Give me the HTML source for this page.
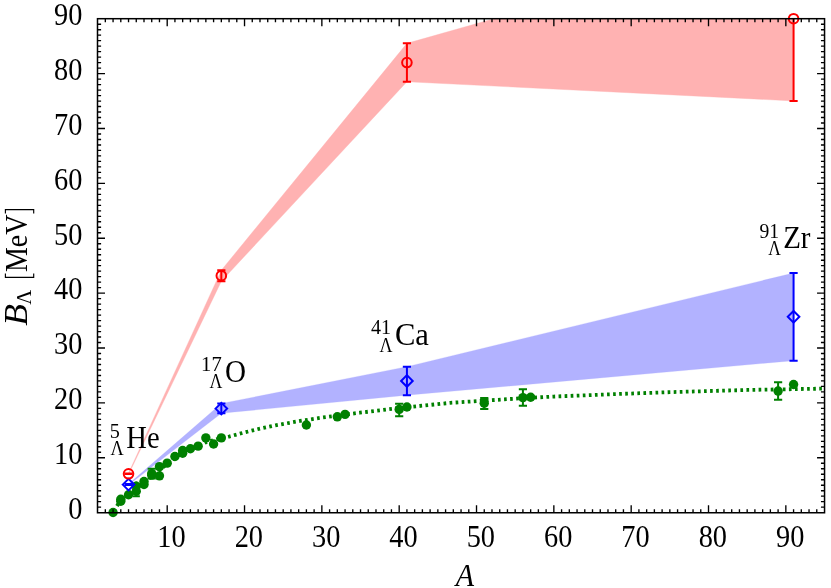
<!DOCTYPE html>
<html><head><meta charset="utf-8"><title>B_Lambda vs A</title>
<style>html,body{margin:0;padding:0;background:#fff;}svg{display:block;will-change:transform;transform:translateZ(0);}text{font-family:"Liberation Serif",serif;fill:#000;}</style></head><body>
<svg width="831" height="588" viewBox="0 0 831 588">
<rect x="0" y="0" width="831" height="588" fill="#ffffff"/>
<defs><clipPath id="cp"><rect x="97.5" y="18.7" width="727.05" height="494.05"/></clipPath></defs>
<polygon points="128.53,473.16 221.33,270.23 406.92,43.36 793.57,-66.24 793.57,100.90 406.92,81.72 221.33,281.19 128.53,474.47" fill="#ffb2b2" stroke="#ffb2b2" stroke-width="0.4" stroke-linejoin="round" clip-path="url(#cp)"/>
<polygon points="128.53,484.12 221.33,403.51 406.92,366.68 793.57,272.97 793.57,360.65 406.92,395.18 221.33,413.26 128.53,485.10" fill="#b2b2ff" stroke="#b2b2ff" stroke-width="0.25" stroke-linejoin="round" clip-path="url(#cp)"/>
<path d="M113.07,512.45 L120.80,499.84 L128.53,494.36 L136.26,488.34 L144.00,482.31 L151.73,476.28 L159.46,470.25 L167.20,463.68 L174.93,457.65 L182.66,452.72 L190.40,448.88 L198.13,445.59 L205.86,442.30 L213.59,440.11 L221.33,438.19 L229.06,436.55 L244.53,432.44 L259.99,428.60 L275.46,425.32 L300.20,420.93 L321.86,417.64 L359.75,412.71 L399.19,408.05 L450.22,402.85 L484.25,400.66 L522.91,398.19 L553.85,396.55 L609.91,394.30 L669.84,392.16 L747.17,389.97 L824.50,388.60" fill="none" stroke="#008000" stroke-width="3.8" stroke-dasharray="2.67 3.395" stroke-dashoffset="-1.43" clip-path="url(#cp)"/>
<path d="M151.73,468.75V478.44M147.63,468.75H155.83M147.63,478.44H155.83" fill="none" stroke="#008000" stroke-width="2.0"/>
<path d="M522.91,389.37V405.81M518.81,389.37H527.01M518.81,405.81H527.01" fill="none" stroke="#008000" stroke-width="2.0"/>
<path d="M778.10,382.30V399.83M774.00,382.30H782.20M774.00,399.83H782.20" fill="none" stroke="#008000" stroke-width="2.0"/>
<path d="M399.19,403.67V416.27M395.09,403.67H403.29M395.09,416.27H403.29" fill="none" stroke="#008000" stroke-width="2.0"/>
<path d="M484.25,398.03V408.99M480.15,398.03H488.35M480.15,408.99H488.35" fill="none" stroke="#008000" stroke-width="2.0"/>
<path d="M136.26,481.6V496.2M132.66,496.2H139.86" fill="none" stroke="#008000" stroke-width="2.0"/>
<circle cx="113.07" cy="512.45" r="4.7" fill="#008000"/>
<circle cx="120.80" cy="501.21" r="4.7" fill="#008000"/>
<circle cx="120.80" cy="499.30" r="4.7" fill="#008000"/>
<circle cx="128.53" cy="494.80" r="4.7" fill="#008000"/>
<circle cx="136.26" cy="486.31" r="4.7" fill="#008000"/>
<circle cx="136.26" cy="491.30" r="4.7" fill="#008000"/>
<circle cx="144.00" cy="484.50" r="4.7" fill="#008000"/>
<circle cx="144.00" cy="481.49" r="4.7" fill="#008000"/>
<circle cx="151.73" cy="473.59" r="4.7" fill="#008000"/>
<circle cx="151.73" cy="475.13" r="4.7" fill="#008000"/>
<circle cx="159.46" cy="475.84" r="4.7" fill="#008000"/>
<circle cx="159.46" cy="466.69" r="4.7" fill="#008000"/>
<circle cx="167.20" cy="463.13" r="4.7" fill="#008000"/>
<circle cx="174.93" cy="456.55" r="4.7" fill="#008000"/>
<circle cx="182.66" cy="453.26" r="4.7" fill="#008000"/>
<circle cx="182.66" cy="450.52" r="4.7" fill="#008000"/>
<circle cx="190.40" cy="448.72" r="4.7" fill="#008000"/>
<circle cx="198.13" cy="446.14" r="4.7" fill="#008000"/>
<circle cx="205.86" cy="437.92" r="4.7" fill="#008000"/>
<circle cx="213.59" cy="443.95" r="4.7" fill="#008000"/>
<circle cx="221.33" cy="437.92" r="4.7" fill="#008000"/>
<circle cx="306.39" cy="425.04" r="4.7" fill="#008000"/>
<circle cx="337.32" cy="416.82" r="4.7" fill="#008000"/>
<circle cx="345.06" cy="414.36" r="4.7" fill="#008000"/>
<circle cx="399.19" cy="409.42" r="4.7" fill="#008000"/>
<circle cx="406.92" cy="406.96" r="4.7" fill="#008000"/>
<circle cx="484.25" cy="403.29" r="4.7" fill="#008000"/>
<circle cx="522.91" cy="397.59" r="4.7" fill="#008000"/>
<circle cx="530.65" cy="397.20" r="4.7" fill="#008000"/>
<circle cx="778.10" cy="391.07" r="4.7" fill="#008000"/>
<circle cx="793.57" cy="384.49" r="4.7" fill="#008000"/>
<path d="M128.53,484.12V485.10M124.43,484.12H132.63M124.43,485.10H132.63" fill="none" stroke="#0000ff" stroke-width="2.0"/>
<path d="M122.73,484.61L128.53,478.81L134.33,484.61L128.53,490.41Z" fill="none" stroke="#0000ff" stroke-width="2.0"/>
<path d="M221.33,403.51V413.26M217.23,403.51H225.43M217.23,413.26H225.43" fill="none" stroke="#0000ff" stroke-width="2.0"/>
<path d="M215.53,408.60L221.33,402.80L227.13,408.60L221.33,414.40Z" fill="none" stroke="#0000ff" stroke-width="2.0"/>
<path d="M406.92,366.68V395.18M402.82,366.68H411.02M402.82,395.18H411.02" fill="none" stroke="#0000ff" stroke-width="2.0"/>
<path d="M401.12,380.93L406.92,375.13L412.72,380.93L406.92,386.73Z" fill="none" stroke="#0000ff" stroke-width="2.0"/>
<path d="M793.57,272.97V360.65M789.47,272.97H797.67M789.47,360.65H797.67" fill="none" stroke="#0000ff" stroke-width="2.0"/>
<path d="M787.77,316.81L793.57,311.01L799.37,316.81L793.57,322.61Z" fill="none" stroke="#0000ff" stroke-width="2.0"/>
<path d="M128.53,473.54V474.09M124.43,473.54H132.63M124.43,474.09H132.63" fill="none" stroke="#ff0000" stroke-width="2.0"/>
<circle cx="128.53" cy="473.81" r="4.8" fill="none" stroke="#ff0000" stroke-width="2.0"/>
<path d="M221.33,270.23V281.19M217.23,270.23H225.43M217.23,281.19H225.43" fill="none" stroke="#ff0000" stroke-width="2.0"/>
<circle cx="221.33" cy="275.71" r="4.8" fill="none" stroke="#ff0000" stroke-width="2.0"/>
<path d="M406.92,43.36V81.72M402.82,43.36H411.02M402.82,81.72H411.02" fill="none" stroke="#ff0000" stroke-width="2.0"/>
<circle cx="406.92" cy="62.54" r="4.8" fill="none" stroke="#ff0000" stroke-width="2.0"/>
<path d="M793.57,18.70V100.90M789.47,100.90H797.67" fill="none" stroke="#ff0000" stroke-width="2.0"/>
<circle cx="793.57" cy="18.70" r="4.8" fill="none" stroke="#ff0000" stroke-width="2.0"/>
<path d="M105.33,512.75v-3.6M105.33,18.70v3.6M113.07,512.75v-3.6M113.07,18.70v3.6M120.80,512.75v-3.6M120.80,18.70v3.6M128.53,512.75v-3.6M128.53,18.70v3.6M136.26,512.75v-3.6M136.26,18.70v3.6M144.00,512.75v-3.6M144.00,18.70v3.6M151.73,512.75v-3.6M151.73,18.70v3.6M159.46,512.75v-3.6M159.46,18.70v3.6M167.20,512.75v-7.5M167.20,18.70v7.5M174.93,512.75v-3.6M174.93,18.70v3.6M182.66,512.75v-3.6M182.66,18.70v3.6M190.40,512.75v-3.6M190.40,18.70v3.6M198.13,512.75v-3.6M198.13,18.70v3.6M205.86,512.75v-3.6M205.86,18.70v3.6M213.59,512.75v-3.6M213.59,18.70v3.6M221.33,512.75v-3.6M221.33,18.70v3.6M229.06,512.75v-3.6M229.06,18.70v3.6M236.79,512.75v-3.6M236.79,18.70v3.6M244.53,512.75v-7.5M244.53,18.70v7.5M252.26,512.75v-3.6M252.26,18.70v3.6M259.99,512.75v-3.6M259.99,18.70v3.6M267.73,512.75v-3.6M267.73,18.70v3.6M275.46,512.75v-3.6M275.46,18.70v3.6M283.19,512.75v-3.6M283.19,18.70v3.6M290.92,512.75v-3.6M290.92,18.70v3.6M298.66,512.75v-3.6M298.66,18.70v3.6M306.39,512.75v-3.6M306.39,18.70v3.6M314.12,512.75v-3.6M314.12,18.70v3.6M321.86,512.75v-7.5M321.86,18.70v7.5M329.59,512.75v-3.6M329.59,18.70v3.6M337.32,512.75v-3.6M337.32,18.70v3.6M345.06,512.75v-3.6M345.06,18.70v3.6M352.79,512.75v-3.6M352.79,18.70v3.6M360.52,512.75v-3.6M360.52,18.70v3.6M368.25,512.75v-3.6M368.25,18.70v3.6M375.99,512.75v-3.6M375.99,18.70v3.6M383.72,512.75v-3.6M383.72,18.70v3.6M391.45,512.75v-3.6M391.45,18.70v3.6M399.19,512.75v-7.5M399.19,18.70v7.5M406.92,512.75v-3.6M406.92,18.70v3.6M414.65,512.75v-3.6M414.65,18.70v3.6M422.39,512.75v-3.6M422.39,18.70v3.6M430.12,512.75v-3.6M430.12,18.70v3.6M437.85,512.75v-3.6M437.85,18.70v3.6M445.58,512.75v-3.6M445.58,18.70v3.6M453.32,512.75v-3.6M453.32,18.70v3.6M461.05,512.75v-3.6M461.05,18.70v3.6M468.78,512.75v-3.6M468.78,18.70v3.6M476.52,512.75v-7.5M476.52,18.70v7.5M484.25,512.75v-3.6M484.25,18.70v3.6M491.98,512.75v-3.6M491.98,18.70v3.6M499.72,512.75v-3.6M499.72,18.70v3.6M507.45,512.75v-3.6M507.45,18.70v3.6M515.18,512.75v-3.6M515.18,18.70v3.6M522.91,512.75v-3.6M522.91,18.70v3.6M530.65,512.75v-3.6M530.65,18.70v3.6M538.38,512.75v-3.6M538.38,18.70v3.6M546.11,512.75v-3.6M546.11,18.70v3.6M553.85,512.75v-7.5M553.85,18.70v7.5M561.58,512.75v-3.6M561.58,18.70v3.6M569.31,512.75v-3.6M569.31,18.70v3.6M577.05,512.75v-3.6M577.05,18.70v3.6M584.78,512.75v-3.6M584.78,18.70v3.6M592.51,512.75v-3.6M592.51,18.70v3.6M600.25,512.75v-3.6M600.25,18.70v3.6M607.98,512.75v-3.6M607.98,18.70v3.6M615.71,512.75v-3.6M615.71,18.70v3.6M623.44,512.75v-3.6M623.44,18.70v3.6M631.18,512.75v-7.5M631.18,18.70v7.5M638.91,512.75v-3.6M638.91,18.70v3.6M646.64,512.75v-3.6M646.64,18.70v3.6M654.38,512.75v-3.6M654.38,18.70v3.6M662.11,512.75v-3.6M662.11,18.70v3.6M669.84,512.75v-3.6M669.84,18.70v3.6M677.58,512.75v-3.6M677.58,18.70v3.6M685.31,512.75v-3.6M685.31,18.70v3.6M693.04,512.75v-3.6M693.04,18.70v3.6M700.77,512.75v-3.6M700.77,18.70v3.6M708.51,512.75v-7.5M708.51,18.70v7.5M716.24,512.75v-3.6M716.24,18.70v3.6M723.97,512.75v-3.6M723.97,18.70v3.6M731.71,512.75v-3.6M731.71,18.70v3.6M739.44,512.75v-3.6M739.44,18.70v3.6M747.17,512.75v-3.6M747.17,18.70v3.6M754.90,512.75v-3.6M754.90,18.70v3.6M762.64,512.75v-3.6M762.64,18.70v3.6M770.37,512.75v-3.6M770.37,18.70v3.6M778.10,512.75v-3.6M778.10,18.70v3.6M785.84,512.75v-7.5M785.84,18.70v7.5M793.57,512.75v-3.6M793.57,18.70v3.6M801.30,512.75v-3.6M801.30,18.70v3.6M809.04,512.75v-3.6M809.04,18.70v3.6M816.77,512.75v-3.6M816.77,18.70v3.6M97.50,507.16h3.6M824.55,507.16h-3.6M97.50,501.67h3.6M824.55,501.67h-3.6M97.50,496.19h3.6M824.55,496.19h-3.6M97.50,490.70h3.6M824.55,490.70h-3.6M97.50,485.21h3.6M824.55,485.21h-3.6M97.50,479.72h3.6M824.55,479.72h-3.6M97.50,474.23h3.6M824.55,474.23h-3.6M97.50,468.75h3.6M824.55,468.75h-3.6M97.50,463.26h3.6M824.55,463.26h-3.6M97.50,457.77h7.5M824.55,457.77h-7.5M97.50,452.28h3.6M824.55,452.28h-3.6M97.50,446.79h3.6M824.55,446.79h-3.6M97.50,441.31h3.6M824.55,441.31h-3.6M97.50,435.82h3.6M824.55,435.82h-3.6M97.50,430.33h3.6M824.55,430.33h-3.6M97.50,424.84h3.6M824.55,424.84h-3.6M97.50,419.35h3.6M824.55,419.35h-3.6M97.50,413.87h3.6M824.55,413.87h-3.6M97.50,408.38h3.6M824.55,408.38h-3.6M97.50,402.89h7.5M824.55,402.89h-7.5M97.50,397.40h3.6M824.55,397.40h-3.6M97.50,391.91h3.6M824.55,391.91h-3.6M97.50,386.43h3.6M824.55,386.43h-3.6M97.50,380.94h3.6M824.55,380.94h-3.6M97.50,375.45h3.6M824.55,375.45h-3.6M97.50,369.96h3.6M824.55,369.96h-3.6M97.50,364.47h3.6M824.55,364.47h-3.6M97.50,358.99h3.6M824.55,358.99h-3.6M97.50,353.50h3.6M824.55,353.50h-3.6M97.50,348.01h7.5M824.55,348.01h-7.5M97.50,342.52h3.6M824.55,342.52h-3.6M97.50,337.03h3.6M824.55,337.03h-3.6M97.50,331.55h3.6M824.55,331.55h-3.6M97.50,326.06h3.6M824.55,326.06h-3.6M97.50,320.57h3.6M824.55,320.57h-3.6M97.50,315.08h3.6M824.55,315.08h-3.6M97.50,309.59h3.6M824.55,309.59h-3.6M97.50,304.11h3.6M824.55,304.11h-3.6M97.50,298.62h3.6M824.55,298.62h-3.6M97.50,293.13h7.5M824.55,293.13h-7.5M97.50,287.64h3.6M824.55,287.64h-3.6M97.50,282.15h3.6M824.55,282.15h-3.6M97.50,276.67h3.6M824.55,276.67h-3.6M97.50,271.18h3.6M824.55,271.18h-3.6M97.50,265.69h3.6M824.55,265.69h-3.6M97.50,260.20h3.6M824.55,260.20h-3.6M97.50,254.71h3.6M824.55,254.71h-3.6M97.50,249.23h3.6M824.55,249.23h-3.6M97.50,243.74h3.6M824.55,243.74h-3.6M97.50,238.25h7.5M824.55,238.25h-7.5M97.50,232.76h3.6M824.55,232.76h-3.6M97.50,227.27h3.6M824.55,227.27h-3.6M97.50,221.79h3.6M824.55,221.79h-3.6M97.50,216.30h3.6M824.55,216.30h-3.6M97.50,210.81h3.6M824.55,210.81h-3.6M97.50,205.32h3.6M824.55,205.32h-3.6M97.50,199.83h3.6M824.55,199.83h-3.6M97.50,194.35h3.6M824.55,194.35h-3.6M97.50,188.86h3.6M824.55,188.86h-3.6M97.50,183.37h7.5M824.55,183.37h-7.5M97.50,177.88h3.6M824.55,177.88h-3.6M97.50,172.39h3.6M824.55,172.39h-3.6M97.50,166.91h3.6M824.55,166.91h-3.6M97.50,161.42h3.6M824.55,161.42h-3.6M97.50,155.93h3.6M824.55,155.93h-3.6M97.50,150.44h3.6M824.55,150.44h-3.6M97.50,144.95h3.6M824.55,144.95h-3.6M97.50,139.47h3.6M824.55,139.47h-3.6M97.50,133.98h3.6M824.55,133.98h-3.6M97.50,128.49h7.5M824.55,128.49h-7.5M97.50,123.00h3.6M824.55,123.00h-3.6M97.50,117.51h3.6M824.55,117.51h-3.6M97.50,112.03h3.6M824.55,112.03h-3.6M97.50,106.54h3.6M824.55,106.54h-3.6M97.50,101.05h3.6M824.55,101.05h-3.6M97.50,95.56h3.6M824.55,95.56h-3.6M97.50,90.07h3.6M824.55,90.07h-3.6M97.50,84.59h3.6M824.55,84.59h-3.6M97.50,79.10h3.6M824.55,79.10h-3.6M97.50,73.61h7.5M824.55,73.61h-7.5M97.50,68.12h3.6M824.55,68.12h-3.6M97.50,62.63h3.6M824.55,62.63h-3.6M97.50,57.15h3.6M824.55,57.15h-3.6M97.50,51.66h3.6M824.55,51.66h-3.6M97.50,46.17h3.6M824.55,46.17h-3.6M97.50,40.68h3.6M824.55,40.68h-3.6M97.50,35.19h3.6M824.55,35.19h-3.6M97.50,29.71h3.6M824.55,29.71h-3.6M97.50,24.22h3.6M824.55,24.22h-3.6" fill="none" stroke="#000" stroke-width="1.35"/>
<rect x="97.5" y="18.7" width="727.05" height="494.05" fill="none" stroke="#000" stroke-width="1.5"/>
<text transform="translate(82.4,518.95) scale(0.945,1.03)" font-size="30" text-anchor="end">0</text>
<text transform="translate(82.4,464.07) scale(0.945,1.03)" font-size="30" text-anchor="end">10</text>
<text transform="translate(82.4,409.19) scale(0.945,1.03)" font-size="30" text-anchor="end">20</text>
<text transform="translate(82.4,354.31) scale(0.945,1.03)" font-size="30" text-anchor="end">30</text>
<text transform="translate(82.4,299.43) scale(0.945,1.03)" font-size="30" text-anchor="end">40</text>
<text transform="translate(82.4,244.55) scale(0.945,1.03)" font-size="30" text-anchor="end">50</text>
<text transform="translate(82.4,189.67) scale(0.945,1.03)" font-size="30" text-anchor="end">60</text>
<text transform="translate(82.4,134.79) scale(0.945,1.03)" font-size="30" text-anchor="end">70</text>
<text transform="translate(82.4,79.91) scale(0.945,1.03)" font-size="30" text-anchor="end">80</text>
<text transform="translate(82.4,25.03) scale(0.945,1.03)" font-size="30" text-anchor="end">90</text>
<text transform="translate(171.50,546.6) scale(0.945,1.03)" font-size="30" text-anchor="middle">10</text>
<text transform="translate(248.83,546.6) scale(0.945,1.03)" font-size="30" text-anchor="middle">20</text>
<text transform="translate(326.16,546.6) scale(0.945,1.03)" font-size="30" text-anchor="middle">30</text>
<text transform="translate(403.49,546.6) scale(0.945,1.03)" font-size="30" text-anchor="middle">40</text>
<text transform="translate(480.82,546.6) scale(0.945,1.03)" font-size="30" text-anchor="middle">50</text>
<text transform="translate(558.15,546.6) scale(0.945,1.03)" font-size="30" text-anchor="middle">60</text>
<text transform="translate(635.48,546.6) scale(0.945,1.03)" font-size="30" text-anchor="middle">70</text>
<text transform="translate(712.81,546.6) scale(0.945,1.03)" font-size="30" text-anchor="middle">80</text>
<text transform="translate(790.14,546.6) scale(0.945,1.03)" font-size="30" text-anchor="middle">90</text>
<text transform="translate(464.9,585.7) scale(1.0,1.07)" font-size="30" font-style="italic" text-anchor="middle">A</text>
<g transform="translate(27.4,325.1) rotate(-90)">
<text transform="translate(-0.6,0) scale(1.17,1.08)" x="0" y="0" font-size="30.5" font-style="italic">B</text>
<text x="20.4" y="3.6" font-size="20.5">Λ</text>
<text x="53.0" y="0" font-size="30.5" textLength="57.6" lengthAdjust="spacingAndGlyphs">MeV</text>
<path d="M51.6,-22.0H47.7V6.3H51.6M111.6,-22.0H115.5V6.3H111.6" fill="none" stroke="#000" stroke-width="1.15"/>
</g>
<text transform="translate(109.63,437.6) scale(1.012,1.0)" font-size="20">5</text>
<text transform="translate(110.38,455.2) scale(0.890,1.0)" font-size="20.5">Λ</text>
<text transform="translate(126.28,447.5) scale(0.953,1.03)" font-size="30">He</text>
<text transform="translate(201.10,371.1) scale(1.031,1.0)" font-size="20">17</text>
<text transform="translate(209.48,388.0) scale(0.869,1.0)" font-size="20.5">Λ</text>
<text transform="translate(224.99,381.6) scale(0.971,1.06)" font-size="30">O</text>
<text transform="translate(371.10,334.3) scale(1.003,1.0)" font-size="20">41</text>
<text transform="translate(379.48,352.1) scale(0.876,1.0)" font-size="20.5">Λ</text>
<text transform="translate(394.92,345.0) scale(1.020,1.04)" font-size="30">Ca</text>
<text transform="translate(759.46,237.7) scale(0.983,1.0)" font-size="20">91</text>
<text transform="translate(768.29,254.8) scale(0.848,1.0)" font-size="20.5">Λ</text>
<text transform="translate(783.15,247.8) scale(0.966,1.04)" font-size="30">Zr</text>
</svg></body></html>
